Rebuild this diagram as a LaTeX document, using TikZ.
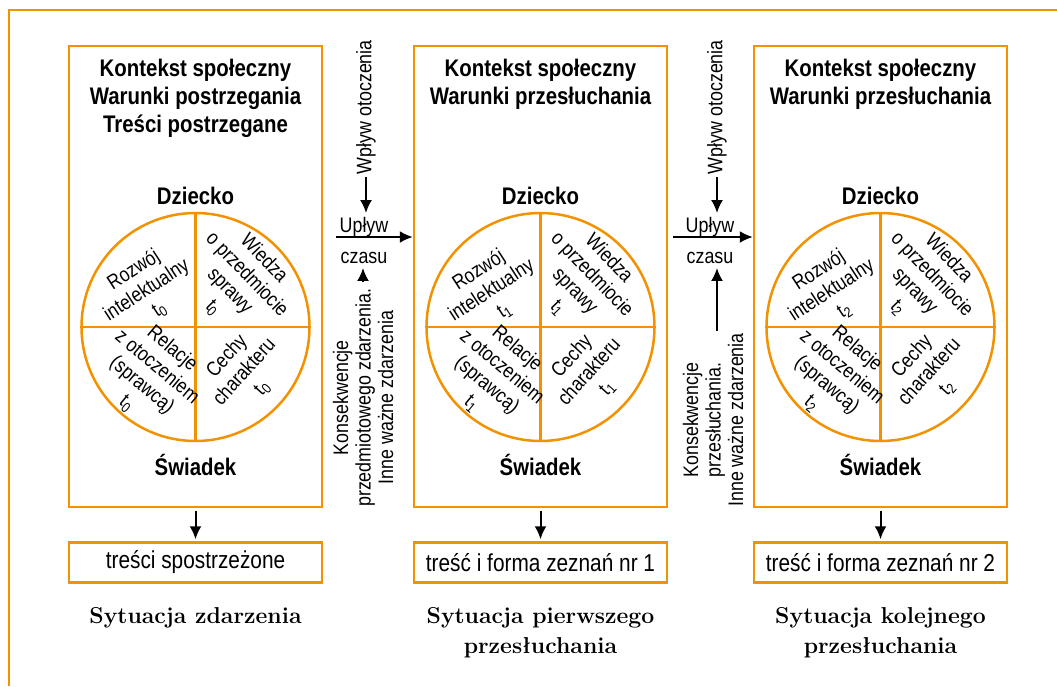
\documentclass[tikz,border=0pt]{standalone}
\usepackage{fontspec}
\newfontfamily\cond{Liberation Sans}[FakeStretch=0.85]
\usetikzlibrary{arrows.meta}
\definecolor{pomar}{RGB}{243,146,0}
\tikzset{arrow/.style={->, >={Latex[length=13pt,width=12pt]}, line width=2pt}}
\tikzset{ramka/.style={draw=pomar, line width=2.5pt}}
\tikzset{sytuacja/.style={ramka, minimum width=253pt, minimum height=461pt, inner sep=0pt}}
\tikzset{wynik/.style={ramka, minimum width=253pt, minimum height=40pt, inner sep=0pt, font=\cond\fontsize{24.5}{28}\selectfont}}
\tikzset{napis/.style={font=\cond\bfseries\fontsize{24}{28}\selectfont, align=center, inner sep=0pt}}
\tikzset{cwiartka/.style={font=\cond\fontsize{20.5}{23.5}\selectfont, align=center, inner sep=0pt}}
\tikzset{opis/.style={font=\cond\fontsize{21}{22.5}\selectfont, align=center, inner sep=0pt}}
\tikzset{podpis/.style={font=\bfseries\fontsize{23}{30}\selectfont, align=center, inner sep=0pt}}
\newcommand{\chwila}[1]{t\textsubscript{#1}}

\begin{document}
\begin{tikzpicture}[x=1pt, y=-1pt]
  \useasboundingbox (0,0) rectangle (1057,686);
  \draw[ramka] (1057,10) -| (9,686);

  % trzy sytuacje
  \foreach \n/\x/\gora/\tresc/\nazwa in {
      0/195.5/{Kontekst społeczny\\Warunki postrzegania\\Treści postrzegane}/{treści spostrzeżone}/{Sytuacja zdarzenia},
      1/540.5/{Kontekst społeczny\\Warunki przesłuchania}/{treść i forma zeznań nr 1}/{Sytuacja pierwszego\\przesłuchania},
      2/880.5/{Kontekst społeczny\\Warunki przesłuchania}/{treść i forma zeznań nr 2}/{Sytuacja kolejnego\\przesłuchania}} {
    \node[sytuacja] (box\n) at (\x, 276.5) {};
    \node[napis, anchor=north] (kontekst\n) at (\x, 59) {\gora};
    \node[napis] (dziecko\n) at (\x, 196) {Dziecko};
    \node[napis] (swiadek\n) at (\x, 465) {Świadek};

    \node[ramka, circle, minimum size=228pt, inner sep=0pt] (kolo\n) at (\x, 327) {};
    \draw[ramka] (kolo\n.north) -- (kolo\n.south);
    \draw[ramka] (kolo\n.west) -- (kolo\n.east);
    \node[cwiartka, rotate=33] (rozwoj\n) at ([shift={(-49,-37)}]kolo\n.center)
      {Rozwój\\intelektualny\\\chwila{\n}};
    \node[cwiartka, rotate=-46] (wiedza\n) at ([shift={(43,-44)}]kolo\n.center)
      {Wiedza\\o przedmiocie\\sprawy\\\chwila{\n}};
    \node[cwiartka, rotate=-40] (relacje\n) at ([shift={(-46,49)}]kolo\n.center)
      {Relacje\\z otoczeniem\\(sprawcą)\\\chwila{\n}};
    \node[cwiartka, rotate=48] (cechy\n) at ([shift={(49,45)}]kolo\n.center)
      {Cechy\\charakteru\\\chwila{\n}};

    \node[wynik] (wynik\n) at (\x, 562.5) {\tresc};
    \draw[arrow, shorten <=3pt, shorten >=2pt] (box\n) -- (wynik\n);
    \node[podpis, anchor=north] (podpis\n) at (\x, 607) {\nazwa};
  }

  % upływ czasu 1
  \node[opis] (uplyw1) at (364, 227) {Upływ};
  \node[opis] (czas1) at (364, 258) {czasu};
  \coordinate (od1) at (336, 237);
  \draw[arrow] (od1) -- (box1.west |- od1);
  \node[opis, rotate=90, anchor=east] (wplyw1) at (366, 40) {Wpływ otoczenia};
  \node[opis, rotate=90, anchor=west] (skutki1) at (363, 507)
    {Konsekwencje\\przedmiotowego zdarzenia.\\Inne ważne zdarzenia};
  \draw[arrow, shorten <=3pt, shorten >=4pt] (wplyw1.west) -- (uplyw1.north -| wplyw1.west);
  \draw[arrow, shorten <=6pt, shorten >=4pt] (skutki1.east) -- (czas1.south -| skutki1.east);

  % upływ czasu 2
  \node[opis] (uplyw2) at (710, 227) {Upływ};
  \node[opis] (czas2) at (710, 258) {czasu};
  \coordinate (od2) at (673, 237);
  \draw[arrow] (od2) -- (box2.west |- od2);
  \node[opis, rotate=90, anchor=east] (wplyw2) at (717, 40) {Wpływ otoczenia};
  \node[opis, rotate=90, anchor=west] (skutki2) at (713, 507)
    {Konsekwencje\\przesłuchania.\\Inne ważne zdarzenia};
  \draw[arrow, shorten <=3pt, shorten >=4pt] (wplyw2.west) -- (uplyw2.north -| wplyw2.west);
  \draw[arrow, shorten <=2pt, shorten >=4pt] (skutki2.east -| wplyw2.west) -- (czas2.south -| wplyw2.west);
\end{tikzpicture}
\end{document}
